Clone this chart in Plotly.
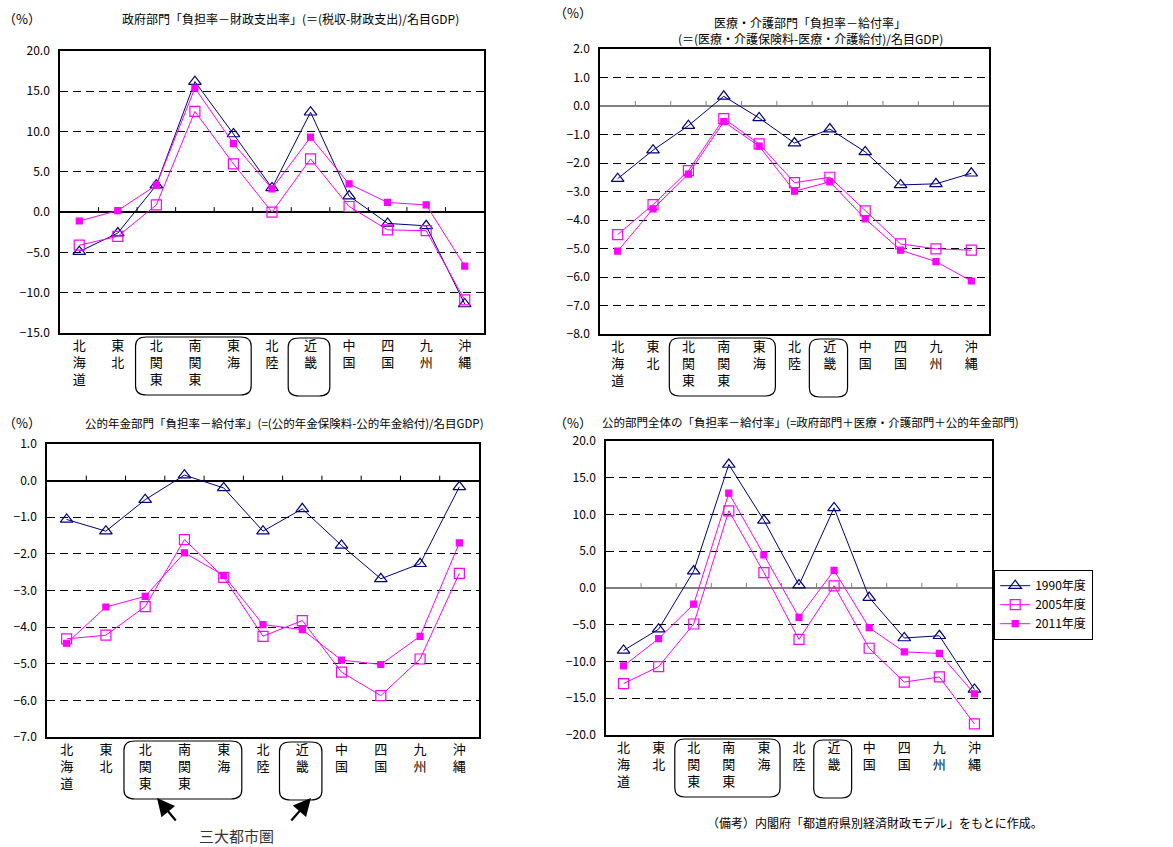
import plotly.graph_objects as go

W, H = 1173, 847

regions = ["北海道", "東北", "北関東", "南関東", "東海", "北陸", "近畿", "中国", "四国", "九州", "沖縄"]
years = ["1990年度", "2005年度", "2011年度"]

# 政府部門
gov_1990 = [-4.9, -2.6, 3.35, 16.2, 9.7, 3.0, 12.4, 2.0, -1.4, -1.7, -11.4]
gov_2005 = [-4.1, -3.0, 0.9, 12.5, 6.0, 0.0, 6.6, 0.7, -2.2, -2.3, -10.9]
gov_2011 = [-1.1, 0.2, 3.35, 15.4, 8.5, 2.9, 9.3, 3.5, 1.2, 0.9, -6.7]

# 医療・介護部門
med_1990 = [-2.55, -1.55, -0.69, 0.34, -0.42, -1.30, -0.81, -1.61, -2.77, -2.73, -2.36]
med_2005 = [-4.51, -3.46, -2.27, -0.44, -1.33, -2.69, -2.50, -3.68, -4.84, -5.01, -5.06]
med_2011 = [-5.09, -3.61, -2.39, -0.55, -1.41, -2.99, -2.66, -3.96, -5.06, -5.46, -6.14]

# 公的年金部門
pen_1990 = [-1.06, -1.38, -0.52, 0.15, -0.20, -1.38, -0.77, -1.77, -2.68, -2.27, -0.17]
pen_2005 = [-4.32, -4.22, -3.44, -1.61, -2.64, -4.25, -3.82, -5.23, -5.87, -4.87, -2.53]
pen_2011 = [-4.44, -3.45, -3.16, -1.97, -2.59, -3.93, -4.07, -4.90, -5.02, -4.25, -1.70]

# 公的部門全体
tot_1990 = [-8.5, -5.6, 2.3, 16.8, 9.2, 0.4, 10.9, -1.3, -6.8, -6.5, -13.8]
tot_2005 = [-13.0, -10.7, -4.9, 10.5, 2.1, -7.0, 0.3, -8.2, -12.8, -12.1, -18.5]
tot_2011 = [-10.6, -6.9, -2.2, 12.9, 4.5, -4.0, 2.4, -5.4, -8.7, -8.9, -14.4]

FONT = "Noto Sans CJK JP"
NAVY = "#000080"
MAG = "#FF00FF"


def fx(p):
    return p / W


def fy(p):
    return 1 - p / H


# plot areas in pixels: left, right, top, bottom
panels = [
    dict(n="", rect=(60, 484, 51, 333), yr=(-15, 20), dt=5, zc="#000000",
         data=(gov_1990, gov_2005, gov_2011)),
    dict(n="2", rect=(600, 989, 49, 334), yr=(-8, 2), dt=1, zc="#808080",
         data=(med_1990, med_2005, med_2011)),
    dict(n="3", rect=(47, 479, 444, 737), yr=(-7, 1), dt=1, zc="#000000",
         data=(pen_1990, pen_2005, pen_2011)),
    dict(n="4", rect=(606, 992, 441, 735), yr=(-20, 20), dt=5, zc="#808080",
         data=(tot_1990, tot_2005, tot_2011)),
]

styles = [
    dict(color=NAVY, symbol="triangle-up-open", size=11, lw=1),
    dict(color=MAG, symbol="square-open", size=10, lw=1),
    dict(color=MAG, symbol="square", size=6, lw=1),
]

xs = list(range(len(regions)))
ticktext = ["<br>".join(list(r)) for r in regions]

fig = go.Figure()
shapes = []
annotations = []


def rounded_box(xref, x0, x1, ptop, pbot, r_data, r_px):
    y0 = fy(pbot)
    y1 = fy(ptop)
    ry = r_px / H
    rx = r_data
    return dict(
        type="path", xref=xref, yref="paper",
        path=(f"M {x0 + rx} {y1} L {x1 - rx} {y1} Q {x1} {y1} {x1} {y1 - ry} "
              f"L {x1} {y0 + ry} Q {x1} {y0} {x1 - rx} {y0} "
              f"L {x0 + rx} {y0} Q {x0} {y0} {x0} {y0 + ry} "
              f"L {x0} {y1 - ry} Q {x0} {y1} {x0 + rx} {y1} Z"),
        line=dict(color="#000000", width=1.2),
    )


layout_axes = {}
for k, p in enumerate(panels):
    n = p["n"]
    L, R, T, B = p["rect"]
    xname = "xaxis" + n
    yname = "yaxis" + n
    xref = "x" + n
    yref = "y" + n
    for j, (vals, st) in enumerate(zip(p["data"], styles)):
        fig.add_trace(go.Scatter(
            x=xs, y=vals, mode="lines+markers", name=years[j],
            xaxis=xref, yaxis=yref,
            line=dict(color=st["color"], width=st["lw"]),
            marker=dict(symbol=st["symbol"], size=st["size"], color=st["color"],
                        line=dict(color=st["color"], width=1.2)),
            showlegend=(k == 3), legendgroup=years[j],
        ))
    layout_axes[xname] = dict(
        domain=[fx(L), fx(R)], anchor=yref, range=[-0.5, 10.5],
        tickmode="array", tickvals=xs, ticktext=ticktext,
        showgrid=False, zeroline=False, ticks="", automargin=False,
        showline=True, mirror=True, linecolor="#000000", linewidth=1.5,
        tickfont=dict(family=FONT, size=13, color="#000000"),
        fixedrange=True,
    )
    layout_axes[yname] = dict(
        domain=[fy(B), fy(T)], anchor=xref, range=list(p["yr"]),
        tickmode="linear", tick0=p["yr"][0], dtick=p["dt"], tickformat=".1f",
        showgrid=True, gridcolor="#000000", gridwidth=1, griddash="8px,5px",
        zeroline=True, zerolinecolor=p["zc"], zerolinewidth=1.5,
        showline=True, mirror=True, linecolor="#000000", linewidth=1.5,
        ticks="", ticklabelstandoff=6, automargin=False,
        tickfont=dict(family=FONT, size=12, color="#000000"),
        fixedrange=True,
    )
    # category boundary ticks on the zero line
    for b in range(1, len(regions)):
        shapes.append(dict(
            type="line", xref=xref, yref=yref, ysizemode="pixel", yanchor=0,
            x0=b - 0.5, x1=b - 0.5, y0=0, y1=5,
            line=dict(color=p["zc"], width=1),
        ))
    # rounded frames around the metropolitan regions
    shapes.append(rounded_box(xref, 1.46, 4.46, B + 4, B + 62, 0.28, 9))
    shapes.append(rounded_box(xref, 5.42, 6.50, B + 5, B + 63, 0.28, 9))

fig.update_layout(**layout_axes)


def text_ann(txt, x, y, size=12, xanchor="left", color="#000000", yanchor="middle"):
    annotations.append(dict(
        text=txt, x=fx(x), y=fy(y), xref="paper", yref="paper",
        xanchor=xanchor, yanchor=yanchor, showarrow=False, borderpad=0,
        font=dict(family=FONT, size=size, color=color),
    ))


text_ann("（%）", 2, 19, size=13)
text_ann("政府部門「負担率－財政支出率」(＝(税収-財政支出)/名目GDP)", 290, 19, xanchor="center")
text_ann("（%）", 553, 13, size=13)
text_ann("医療・介護部門「負担率－給付率」", 810, 22, xanchor="center")
text_ann("(＝(医療・介護保険料-医療・介護給付)/名目GDP)", 810, 38, xanchor="center")
text_ann("（%）", 2, 422, size=13)
text_ann("公的年金部門「負担率－給付率」(=(公的年金保険料-公的年金給付)/名目GDP)", 284, 423, xanchor="center", size=11.5)
text_ann("（%）", 553, 422, size=13)
text_ann("公的部門全体の「負担率－給付率」(=政府部門＋医療・介護部門＋公的年金部門)", 601, 422, size=11.5)
text_ann("（備考）内閣府「都道府県別経済財政モデル」をもとに作成。", 875, 822, xanchor="center")
text_ann("三大都市圏", 236, 847, size=15, xanchor="center", color="#333333", yanchor="bottom")

# arrows pointing at the metropolitan frames
for hx, hy, ax, ay in [(157, 798, 20, 24), (311, 798, -21, 24)]:
    annotations.append(dict(
        text="", x=fx(hx), y=fy(hy), xref="paper", yref="paper",
        showarrow=True, ax=ax, ay=ay, axref="pixel", ayref="pixel",
        arrowhead=2, arrowsize=1.6, arrowwidth=2.2, arrowcolor="#000000",
        standoff=0,
    ))

fig.update_layout(
    width=W, height=H,
    margin=dict(l=0, r=0, t=0, b=0, autoexpand=False),
    paper_bgcolor="#FFFFFF", plot_bgcolor="#FFFFFF",
    font=dict(family=FONT, size=12, color="#000000"),
    shapes=shapes, annotations=annotations,
    legend=dict(
        x=fx(994), y=fy(570), xanchor="left", yanchor="top",
        bordercolor="#000000", borderwidth=1.2, bgcolor="#FFFFFF",
        font=dict(family=FONT, size=12, color="#000000"),
        itemwidth=30, tracegroupgap=0,
    ),
)

fig.write_html("out.html")
